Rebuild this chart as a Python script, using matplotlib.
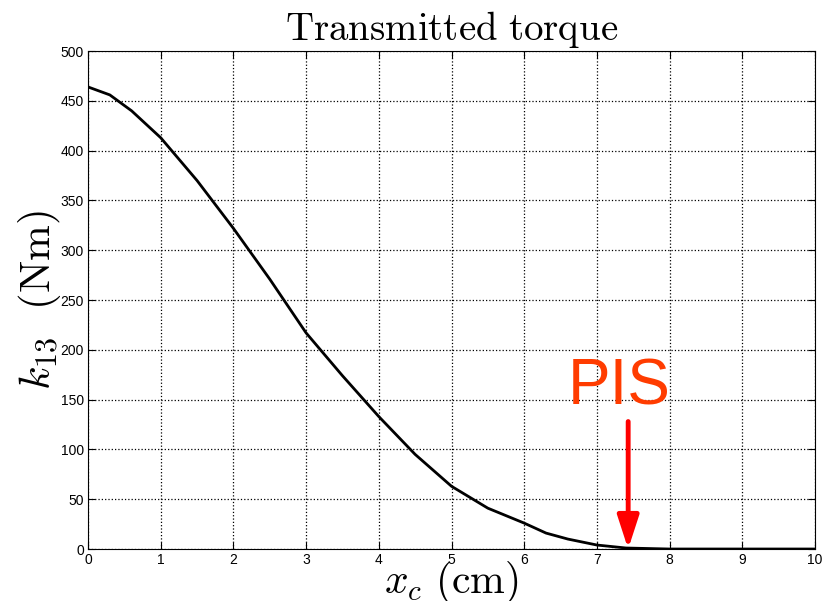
import matplotlib
matplotlib.use("Agg")
import matplotlib.pyplot as plt

plt.rcParams['mathtext.fontset'] = 'cm'
plt.rcParams['font.family'] = ['Liberation Sans', 'DejaVu Sans']

# curve
x_cm = [0, 0.3, 0.6, 1.0, 1.5, 2.0, 2.5, 3.0, 3.5, 4.0, 4.5, 5.0, 5.5, 6.0, 6.3, 6.6, 7.0, 7.4, 8.0, 9.0, 10.0]
torque = [464, 456, 440, 413, 370, 322, 271, 217, 174, 133, 95, 63, 41, 26, 16, 10, 4, 1, 0, 0, 0]

pis_x = 7.43
x_ticks = list(range(0, 11))
y_ticks = list(range(0, 501, 50))

fig = plt.figure(figsize=(8.24, 6.01), dpi=100)
ax = fig.add_axes([0.1068, 0.0865, 0.8823, 0.8285])

ax.plot(x_cm, torque, color='black', linewidth=2.0)

ax.set_xlim(0, 10)
ax.set_ylim(0, 500)
ax.set_xticks(x_ticks)
ax.set_yticks(y_ticks)
ax.tick_params(direction='in', top=True, right=True, labelsize=10, length=5, pad=3)
ax.grid(True, color='black', linestyle=':', linewidth=0.9)

ax.set_title(r'$\mathrm{Transmitted\ torque}$', fontsize=28, pad=8)
ax.set_xlabel(r'$x_c\ \mathrm{(cm)}$', fontsize=30, labelpad=-6)
ax.set_ylabel(r'$k_{13}\ \ \mathrm{(Nm)}$', fontsize=31, labelpad=-2)

# PIS marker
ax.annotate('', xy=(pis_x, 0), xytext=(pis_x, 128),
            arrowprops=dict(arrowstyle='-|>,head_width=0.65,head_length=2.0',
                            color='#ff0000', linewidth=3.5, shrinkA=0, shrinkB=0))
ax.text(7.3, 132, 'PIS', color='#ff3c00', fontsize=46, ha='center', va='bottom')

fig.savefig('out.png', dpi=100)
